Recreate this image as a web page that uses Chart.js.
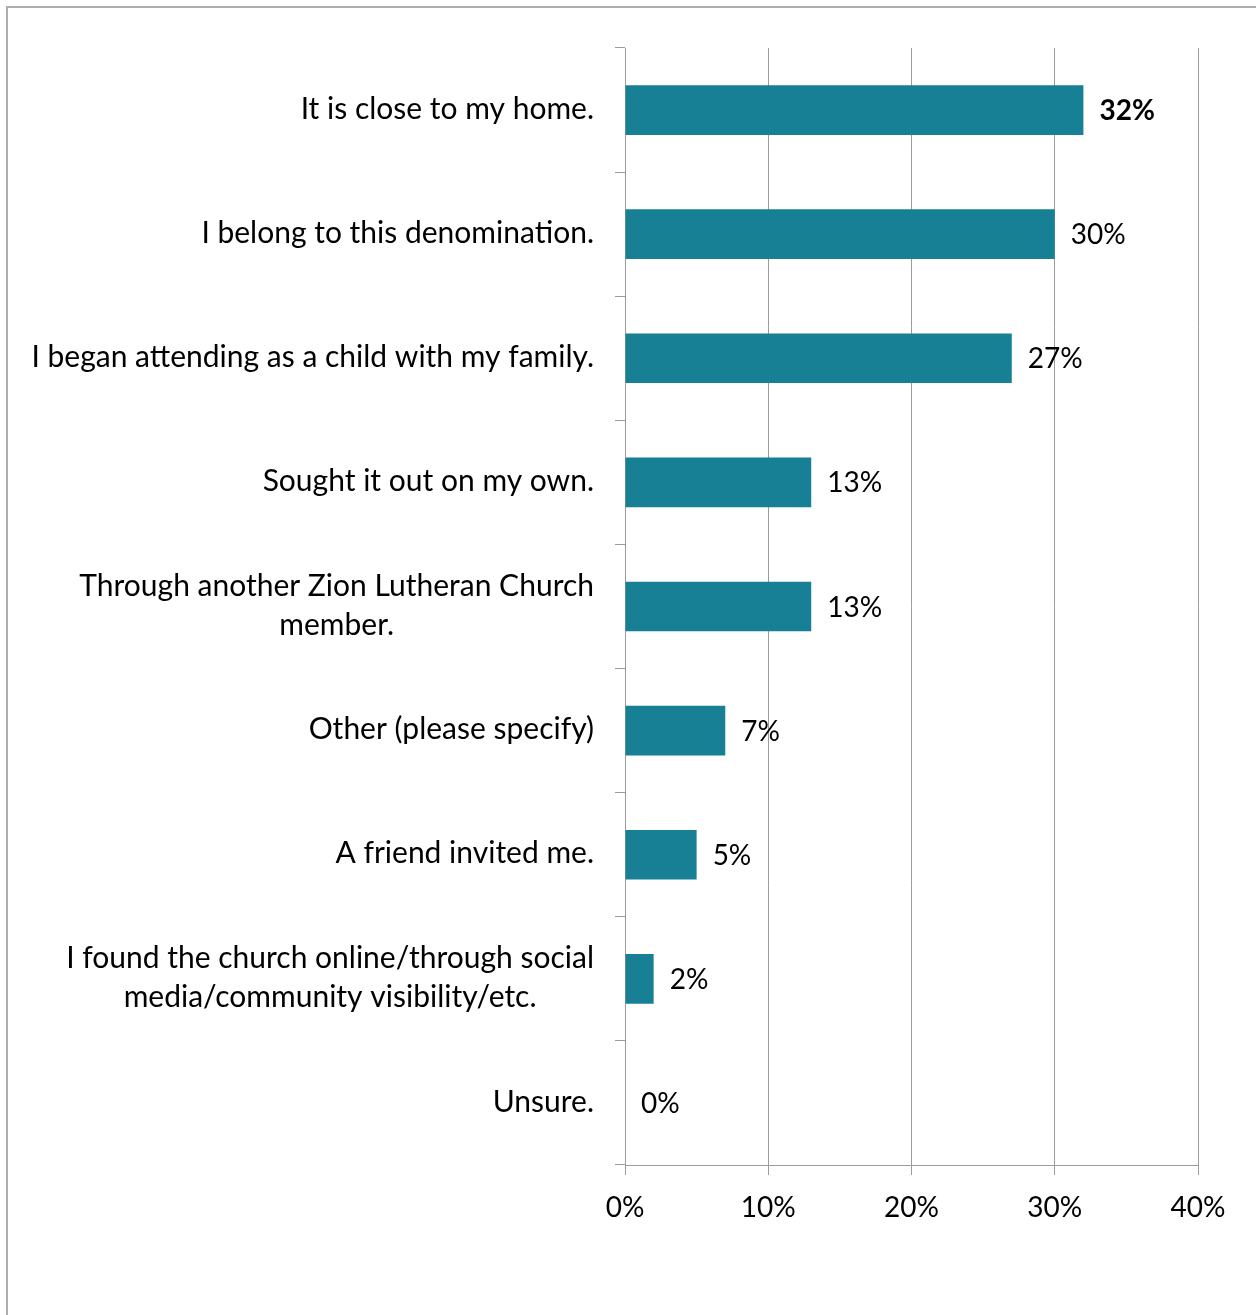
<!DOCTYPE html>
<html>
<head>
<meta charset="utf-8">
<title>How did you find Zion Lutheran Church?</title>
<script src="https://cdn.jsdelivr.net/npm/chart.js@4.4.1/dist/chart.umd.min.js"></script>
<style>
  html, body { margin: 0; padding: 0; background: #ffffff; }
  #wrap { position: relative; width: 1256px; height: 1315px; overflow: hidden; }
  #frame {
    position: absolute; left: 6px; top: 6px; width: 1400px; height: 1400px;
    border-left: 2px solid #adadad; border-top: 2px solid #adadad;
    box-sizing: border-box; pointer-events: none;
  }
  #chart { position: absolute; left: 0; top: 0; }
</style>
</head>
<body>
<div id="wrap">
  <div id="frame"></div>
  <canvas id="chart" width="1256" height="1315"></canvas>
</div>
<script>
// Survey answers (one entry per bar; multi-line answers are split into lines)
const answers = [
  ["It is close to my home."],
  ["I belong to this denomination."],
  ["I began attending as a child with my family."],
  ["Sought it out on my own."],
  ["Through another Zion Lutheran Church", "member."],
  ["Other (please specify)"],
  ["A friend invited me."],
  ["I found the church online/through social", "media/community visibility/etc."],
  ["Unsure."]
];

// Share of respondents, in percent
const shares = [32, 30, 27, 13, 13, 7, 5, 2, 0];

// Percent axis ticks
const percentTicks = [0, 10, 20, 30, 40];

const FONT = "Lato, 'Open Sans', sans-serif";
const LABEL_SIZE = 30;
const NUMBER_SIZE = 28;
const GRID = '#9b9b9b';
const BAR = '#178094';

// Answer labels: single lines right-aligned next to the axis,
// wrapped answers centred on their widest line.
const answerLabels = {
  id: 'answerLabels',
  afterDraw(chart) {
    const y = chart.scales.y;
    const ctx = chart.ctx;
    const rightEdge = y.right - 31;
    const lineHeight = 39;
    ctx.save();
    ctx.font = LABEL_SIZE + 'px ' + FONT;
    ctx.fillStyle = '#000000';
    ctx.textBaseline = 'middle';
    answers.forEach((lines, i) => {
      const cy = y.getPixelForValue(i) - 1;
      const y0 = cy - (lines.length - 1) * lineHeight / 2;
      if (lines.length === 1) {
        ctx.textAlign = 'right';
        ctx.fillText(lines[0], rightEdge, cy);
      } else {
        const widest = Math.max(...lines.map(l => ctx.measureText(l).width));
        const cx = rightEdge - widest / 2;
        ctx.textAlign = 'center';
        lines.forEach((l, k) => ctx.fillText(l, cx, y0 + k * lineHeight));
      }
    });
    ctx.restore();
  }
};

// Value labels at the end of each bar; the largest share is set in bold
const valueLabels = {
  id: 'valueLabels',
  afterDatasetsDraw(chart) {
    const ctx = chart.ctx;
    const meta = chart.getDatasetMeta(0);
    const data = chart.data.datasets[0].data;
    const top = Math.max(...data);
    ctx.save();
    ctx.fillStyle = '#000000';
    ctx.textBaseline = 'middle';
    ctx.textAlign = 'left';
    meta.data.forEach((bar, i) => {
      const v = data[i];
      ctx.font = (v === top ? 'bold ' : '') + NUMBER_SIZE + 'px ' + FONT;
      ctx.fillText(Math.round(v) + '%', bar.x + 16, bar.y + 1);
    });
    ctx.restore();
  }
};

new Chart(document.getElementById('chart'), {
  type: 'bar',
  data: {
    labels: answers.map(a => a.join(' ')),
    datasets: [{
      data: shares,
      backgroundColor: BAR,
      borderWidth: 0,
      barPercentage: 0.4,
      categoryPercentage: 1.0
    }]
  },
  options: {
    indexAxis: 'y',
    responsive: false,
    animation: false,
    devicePixelRatio: 1,
    layout: { padding: { left: 0, right: 58, top: 48, bottom: 0 } },
    plugins: {
      legend: { display: false },
      tooltip: { enabled: false }
    },
    scales: {
      x: {
        type: 'linear',
        min: 0,
        max: 40,
        afterBuildTicks(scale) { scale.ticks = percentTicks.map(v => ({ value: v })); },
        afterFit(scale) { scale.height = 150; },
        grid: {
          color: GRID,
          lineWidth: 1,
          tickLength: 10,
          drawTicks: true
        },
        border: { color: GRID, width: 1 },
        ticks: {
          color: '#000000',
          font: { family: FONT, size: NUMBER_SIZE },
          padding: 16,
          maxRotation: 0,
          callback: v => v + '%'
        }
      },
      y: {
        type: 'category',
        offset: true,
        afterFit(scale) { scale.width = 625; },
        grid: {
          offset: true,
          drawOnChartArea: false,
          color: GRID,
          lineWidth: 1,
          tickLength: 10
        },
        border: { color: GRID, width: 1 },
        ticks: { display: false }
      }
    }
  },
  plugins: [answerLabels, valueLabels]
});
</script>
</body>
</html>
